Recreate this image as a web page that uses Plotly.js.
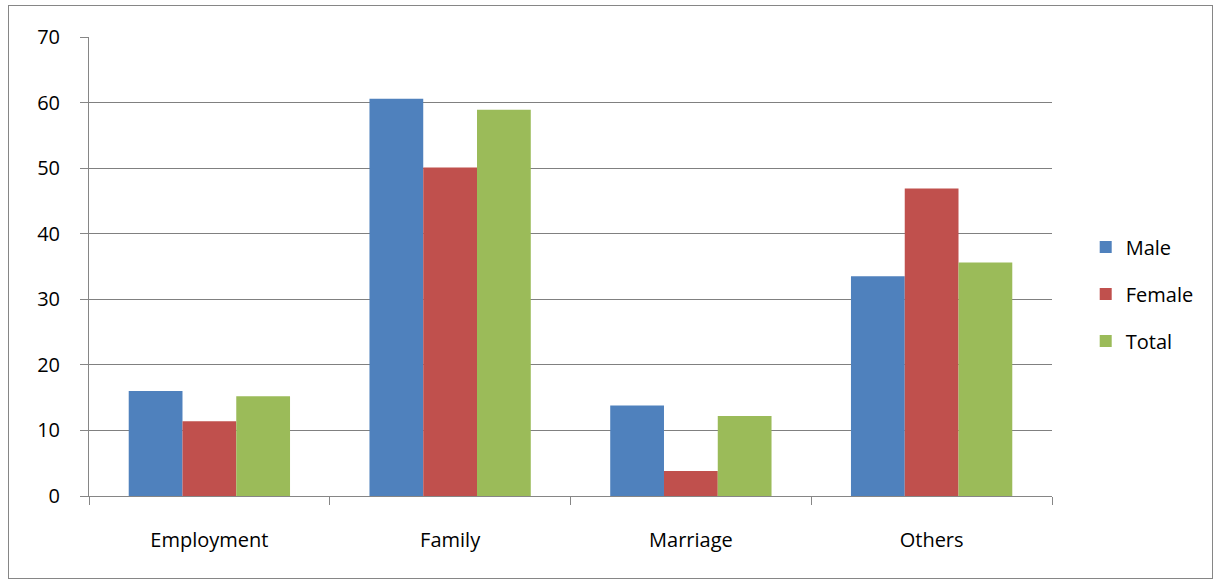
<!DOCTYPE html>
<html>
<head>
<script src="https://cdn.plot.ly/plotly-3.0.1.min.js"></script>
<style>
body { margin: 0; background: #fff; }
#frame { position: absolute; left: 8px; top: 5px; width: 1203px; height: 572px; border: 1px solid #868686; }
#chart { width: 1203px; height: 572px; }
</style>
</head>
<body>
<div id="frame"><div id="chart"></div></div>
<script>
const categories = ["Employment", "Family", "Marriage", "Others"];
const male = [16.0, 60.6, 13.8, 33.5];
const female = [11.4, 50.1, 3.8, 46.9];
const total = [15.2, 58.9, 12.2, 35.6];
const yTicks = [0, 10, 20, 30, 40, 50, 60, 70];

function bar(name, values, color) {
    return { type: "bar", name: name, legendgroup: name, x: categories, y: values, marker: { color: color } };
}

Plotly.newPlot("chart", [
    bar("Male", male, "#4F81BD"),
    bar("Female", female, "#C0504D"),
    bar("Total", total, "#9BBB59")
], {
    width: 1203, height: 572,
    margin: { l: 80, r: 160, t: 31, b: 82 },
    font: { family: "Open Sans, sans-serif", size: 20, color: "#000" },
    bargap: 0.33, bargroupgap: 0,
    showlegend: true,
    legend: { x: 1.035, y: 0.44, yanchor: "middle", font: { size: 20 }, traceorder: "grouped", tracegroupgap: 18 },
    xaxis: {
        type: "category", ticks: "outside", tickson: "boundaries", ticklen: 8,
        tickcolor: "#868686", showline: true, linecolor: "#868686", showgrid: false,
        ticklabelstandoff: 26
    },
    yaxis: {
        range: [0, 70], tickvals: yTicks, ticks: "outside", ticklen: 8, tickcolor: "#868686",
        showline: true, linecolor: "#868686", gridcolor: "#808080", zeroline: false,
        ticklabelstandoff: 16
    },
    paper_bgcolor: "#fff", plot_bgcolor: "#fff"
}, { displayModeBar: false });
</script>
</body>
</html>
